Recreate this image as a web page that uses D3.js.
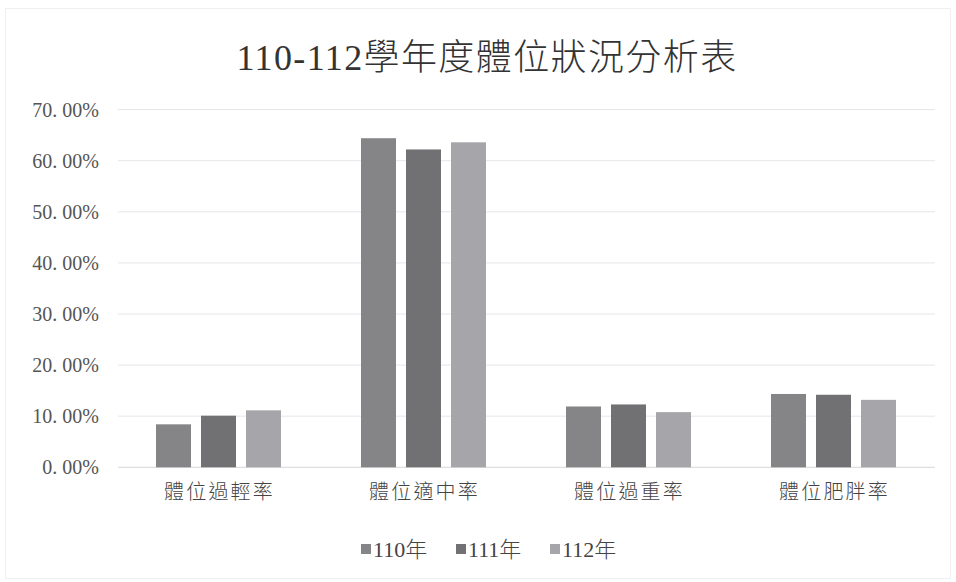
<!DOCTYPE html>
<html><head><meta charset="utf-8">
<script src="https://cdn.jsdelivr.net/npm/d3@7"></script>
<style>body{margin:0;background:#fff}svg{display:block}</style>
</head><body>
<script>
const categories = ["體位過輕率","體位適中率","體位過重率","體位肥胖率"];
const series = ["110年","111年","112年"];
const v110 = [0.0841, 0.644, 0.119, 0.1435];
const v111 = [0.101, 0.622, 0.123, 0.142];
const v112 = [0.1115, 0.636, 0.108, 0.132];
const yTicks = [0,0.1,0.2,0.3,0.4,0.5,0.6,0.7];
const colors = ["#858588","#717174","#a6a6aa"];
const values = [v110, v111, v112];

const W=956,H=582;
const font = "'Liberation Serif','Noto Sans CJK TC',serif";
const svg = d3.select("body").append("svg").attr("width",W).attr("height",H);
svg.append("rect").attr("x",5.5).attr("y",8.5).attr("width",945).attr("height",570)
  .attr("fill","#fff").attr("stroke","#f0f0f0");

const x0 = d3.scaleBand().domain(categories).range([116,936]).padding(0);
const x1 = d3.scaleBand().domain(series).range([40,165]).paddingInner(10/45).paddingOuter(0);
const y = d3.scaleLinear().domain([0,0.7]).range([467.3,109.6]);

// gridlines
svg.append("g").selectAll("line").data(yTicks).join("line")
  .attr("x1",118).attr("x2",935).attr("y1",d=>y(d)).attr("y2",d=>y(d))
  .attr("stroke",d=>d===0?"#d6d6d8":"#e6e6ea").attr("stroke-width",1);

// y axis labels
const yAxis = d3.axisLeft(y).tickValues(yTicks).tickSize(0).tickPadding(0)
  .tickFormat(d=>d3.format(".2f")(d*100).replace(".",". ")+"%");
const ga = svg.append("g").attr("transform","translate(99,0)").call(yAxis);
ga.select(".domain").remove();
ga.selectAll("text").attr("font-family",font).attr("font-size",20).attr("fill","#555");

// bars
const g = svg.append("g").selectAll("g").data(categories).join("g")
  .attr("transform",d=>`translate(${x0(d)},0)`);
g.selectAll("rect").data((d,i)=>series.map((s,j)=>({s,j,v:values[j][i]}))).join("rect")
  .attr("x",d=>x1(d.s)).attr("width",x1.bandwidth())
  .attr("y",d=>y(d.v)).attr("height",d=>y(0)-y(d.v))
  .attr("fill",d=>colors[d.j]);

// x axis labels
const xAxis = d3.axisBottom(x0).tickSize(0).tickPadding(0);
const gx = svg.append("g").attr("transform","translate(1,499)").call(xAxis);
gx.select(".domain").remove();
gx.selectAll("text").attr("font-family",font).attr("font-size",20).attr("font-weight",300)
  .attr("letter-spacing",2.2).attr("fill","#444").attr("dy","0");

// title
svg.append("text").attr("x",487).attr("y",70).attr("text-anchor","middle")
  .attr("font-family",font).attr("font-size",36).attr("font-weight",300)
  .attr("letter-spacing",1.4).attr("fill","#333")
  .text("110-112學年度體位狀況分析表");

// legend
const legX = [361,456,550];
const lg = svg.append("g").selectAll("g").data(series).join("g")
  .attr("transform",(d,i)=>`translate(${legX[i]},0)`);
lg.append("rect").attr("x",0).attr("y",544).attr("width",10).attr("height",10).attr("fill",(d,i)=>colors[i]);
lg.append("text").attr("x",12).attr("y",557).attr("font-family",font).attr("font-size",22)
  .attr("font-weight",300).attr("fill","#444").text(d=>d);
</script>
</body></html>
